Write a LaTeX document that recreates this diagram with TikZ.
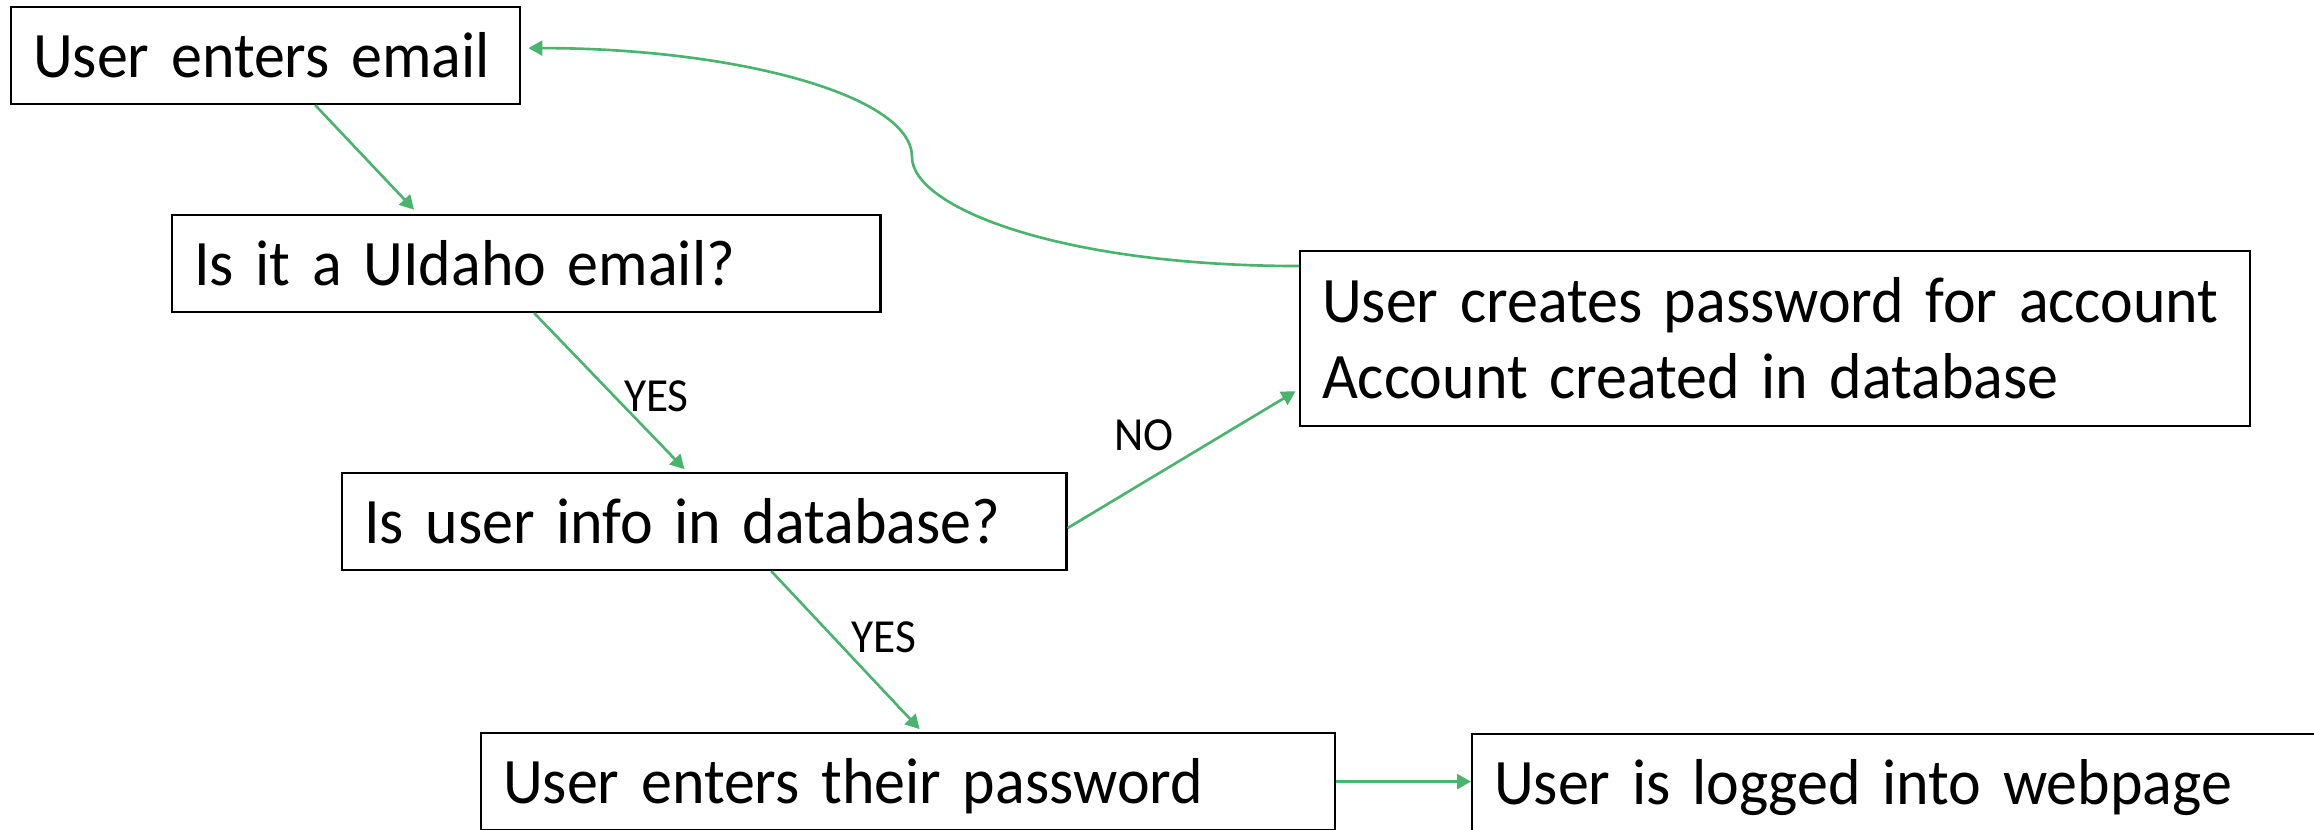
\documentclass[tikz,border=0pt]{standalone}
\usepackage{fontspec}
\setmainfont{Carlito}[FakeStretch=0.955]
\usetikzlibrary{arrows.meta,positioning}

\definecolor{flowgreen}{RGB}{72,180,110}

\tikzset{
  box/.style={draw, line width=0.6pt, anchor=north west, align=left,
    inner xsep=0.22cm, inner ysep=0cm, minimum height=0.97cm,
    text height=0.43cm, text depth=0cm,
    font=\fontsize{18.45}{21.6}\selectfont},
  link/.style={draw=flowgreen, line width=0.75pt,
    -{Triangle[length=0.14cm,width=0.15cm]}},
  lbl/.style={inner sep=0cm, font=\fontsize{13.5}{16}\selectfont}
}

\begin{document}
\begin{tikzpicture}[x=0.01cm,y=-0.01cm]
\useasboundingbox (0,0) rectangle (2314,829);

\coordinate (c0) at (10,6);
\coordinate (c1) at (171,214);
\coordinate (c2) at (341,472);
\coordinate (c3) at (480,732);
\coordinate (c4) at (1471,733);
\coordinate (c5) at (1299,250);
\coordinate (bend) at (912,157);

\node (email) at (c0) [box, text width=4.65cm] {User enters email};
\node (uidaho) at (c1) [box, text width=6.64cm] {Is it a UIdaho email?};
\node (indb) at (c2) [box, text width=6.80cm] {Is user info in database?};
\node (enterpw) at (c3) [box, text width=8.09cm] {User enters their password};
\node (loggedin) at (c4) [box, text width=8.56cm] {User is logged into webpage};
\node (create) at (c5) [box, text width=9.05cm, minimum height=1.75cm, text depth=0.76cm]
  {\mbox{User creates password for account}\\Account created in database};

\draw[link, shorten >=0.06cm] ([xshift=0.495cm]email.south) -- ([xshift=-1.08cm]uidaho.north);
\draw[link, shorten >=0.04cm] ([xshift=0.08cm]uidaho.south) -- ([xshift=-0.17cm]indb.north)
  node [lbl, pos=0.52, right=0.09cm] {YES};
\draw[link, shorten >=0.04cm] ([xshift=0.67cm]indb.south) -- ([xshift=0.145cm]enterpw.north)
  node [lbl, pos=0.41, right=0.17cm] {YES};
\draw[link, shorten >=0.04cm] ([yshift=-0.065cm]indb.east) -- ([yshift=-0.505cm]create.west)
  node [lbl, pos=0.33, above=0.3cm] {NO};
\draw[link] (enterpw.east) -- (enterpw.east -| loggedin.west);
\draw[link, shorten >=0.07cm] ([yshift=-0.16cm]create.north west)
  .. controls +(-240,0) and +(0,50) .. (bend)
  .. controls +(0,-62) and +(213,0) .. ([yshift=0.075cm]email.east);
\end{tikzpicture}
\end{document}
